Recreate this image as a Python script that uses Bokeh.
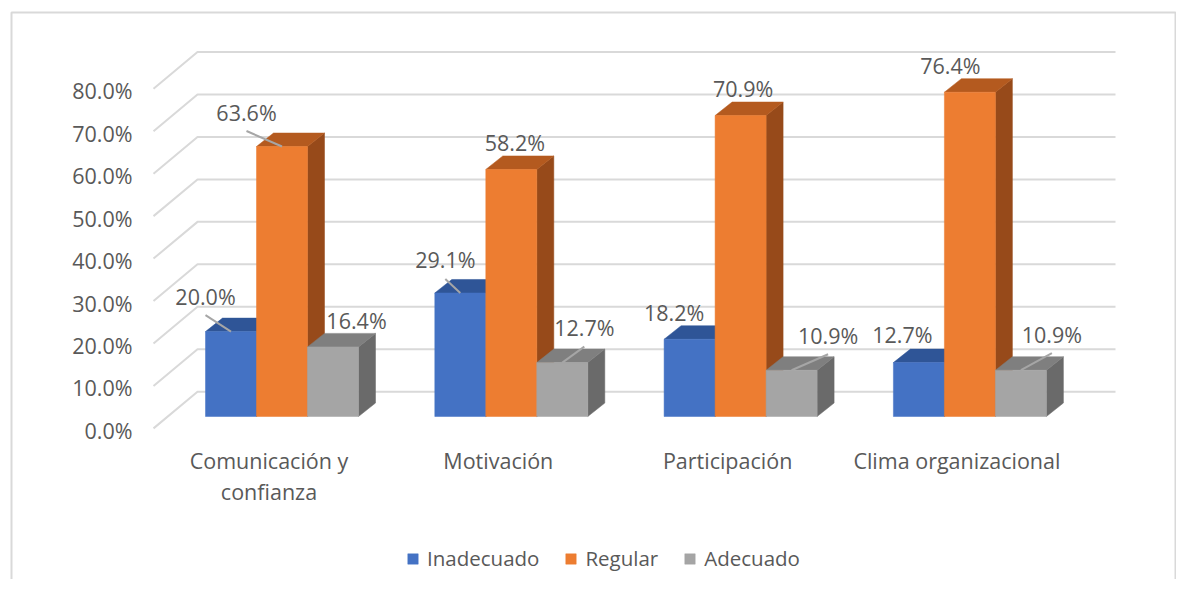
from bokeh.plotting import figure
from bokeh.models import Range1d, Legend, LegendItem
from bokeh.core.properties import value
from bokeh.embed import file_html
from bokeh.resources import INLINE

# ---------------- data ----------------
categories = ["Comunicación y\nconfianza", "Motivación", "Participación", "Clima organizacional"]
series = ["Inadecuado", "Regular", "Adecuado"]
inadecuado = [20.0, 29.1, 18.2, 12.7]
regular = [63.6, 58.2, 70.9, 76.4]
adecuado = [16.4, 12.7, 10.9, 10.9]
y_ticks = [0, 10, 20, 30, 40, 50, 60, 70, 80]
values = [inadecuado, regular, adecuado]

# ---------------- layout ----------------
W, H = 1176, 579
X0, SX = 281.5, 229.3     # px of category 0 centre, px per category
Y0, SY = 416.0, 4.245     # px of 0 %, px per percent


def dxu(p):
    return p / SX


def dyu(p):
    return p / SY


def px(c):
    return (c - X0) / SX


def py(c):
    return (Y0 - c) / SY


BAR_W = dxu(51)
DEPTH_X, DEPTH_Y = dxu(17), dyu(13.5)
FRONT_DY, BACK_DY = -2.8, 5.85          # floor front / back wall relative to bar plane (%)
GRID_FRONT_X, GRID_BACK_X, GRID_END_X = px(153), px(197), px(1115)

front_colors = ["#4472C4", "#ED7D31", "#A5A5A5"]
top_colors = ["#2F5597", "#B45A1F", "#7F7F7F"]
side_colors = ["#284A85", "#974A1A", "#6A6A6A"]
TXT = "#595959"
GRID = "#D9D9D9"
FONT = "Open Sans"

# label offsets (px) from bar-top front centre, per series / category
label_offsets = [
    [(-25.5, -35.5), (-15, -33), (-15.5, -27), (-16.5, -28)],
    [(-35.5, -34.5), (3.5, -27), (2.5, -27), (-19.5, -26.7)],
    [(23.5, -26.5), (22, -35), (36.5, -35), (31, -36)],
]

p = figure(width=W, height=H, output_backend="svg", toolbar_location=None,
           x_range=Range1d(px(0), px(W)), y_range=Range1d(py(H), py(0)),
           x_axis_location=None, y_axis_location=None, min_border=0)
p.grid.visible = False
p.outline_line_color = None
p.background_fill_color = "white"
p.border_fill_color = "white"

# outer chart border (left, top, right)
p.line([px(11), px(11), px(1175), px(1175)], [py(H + 5), py(12), py(12), py(H + 5)],
       line_color=GRID, line_width=2)

# gridlines (floor diagonal + back wall)
gxs, gys = [], []
for t in y_ticks:
    gxs.append([GRID_FRONT_X, GRID_BACK_X, GRID_END_X])
    gys.append([t + FRONT_DY, t + BACK_DY, t + BACK_DY])
p.multi_line(gxs, gys, line_color=GRID, line_width=2)

# y tick labels
p.text(x=[px(132)] * len(y_ticks), y=[t + FRONT_DY - dyu(2) for t in y_ticks],
       text=[f"{t:.1f}%" for t in y_ticks], text_align="right", text_baseline="middle",
       text_font=value(FONT), text_font_size=value("21.5px"), text_color=TXT)

# bars
front_renderers = []
for s, vals in enumerate(values):
    lefts = [i + (s - 1.5) * BAR_W for i in range(len(categories))]
    rights = [l + BAR_W for l in lefts]
    side_xs = [[r, r + DEPTH_X, r + DEPTH_X, r] for r in rights]
    side_ys = [[0, DEPTH_Y, v + DEPTH_Y, v] for v in vals]
    p.patches(side_xs, side_ys, fill_color=side_colors[s], line_color=side_colors[s], line_width=0.5)
    top_xs = [[l, r, r + DEPTH_X, l + DEPTH_X] for l, r in zip(lefts, rights)]
    top_ys = [[v, v, v + DEPTH_Y, v + DEPTH_Y] for v in vals]
    p.patches(top_xs, top_ys, fill_color=top_colors[s], line_color=top_colors[s], line_width=0.5)
    fr = p.quad(left=lefts, right=rights, bottom=[0] * len(vals), top=vals,
                fill_color=front_colors[s], line_color=front_colors[s], line_width=0.5)
    front_renderers.append(fr)

# data labels with leader lines
lx, ly, lt = [], [], []
lead_xs, lead_ys = [], []
for s, vals in enumerate(values):
    for i, v in enumerate(vals):
        cx = i + (s - 1) * BAR_W
        ox, oy = label_offsets[s][i]
        tx, ty = cx + dxu(ox), v - dyu(oy)
        lx.append(tx)
        ly.append(ty)
        lt.append(f"{v:.1f}%")
        if oy < -30:
            lead_xs.append([cx, tx])
            lead_ys.append([v, ty - dyu(19)])
p.multi_line(lead_xs, lead_ys, line_color="#A6A6A6", line_width=2)
p.text(x=lx, y=ly, text=lt, text_align="center", text_baseline="middle",
       text_font=value(FONT), text_font_size=value("21.5px"), text_color=TXT)

# category labels
p.text(x=[i + dxu(-13) for i in range(len(categories))], y=[py(445)] * len(categories),
       text=categories, text_align="center", text_baseline="top", line_height=1.1,
       text_font=value(FONT), text_font_size=value("21.5px"), text_color=TXT)

# legend
legend = Legend(items=[LegendItem(label=series[s], renderers=[front_renderers[s]]) for s in range(3)],
                orientation="horizontal", location=(406, 7), padding=0, margin=0,
                spacing=25, label_standoff=8, glyph_width=13, glyph_height=13,
                border_line_color=None, background_fill_alpha=0,
                label_text_font=FONT, label_text_font_size="20.5px", label_text_color=TXT)
p.add_layout(legend)

open("out.html", "w").write(file_html(p, INLINE))
